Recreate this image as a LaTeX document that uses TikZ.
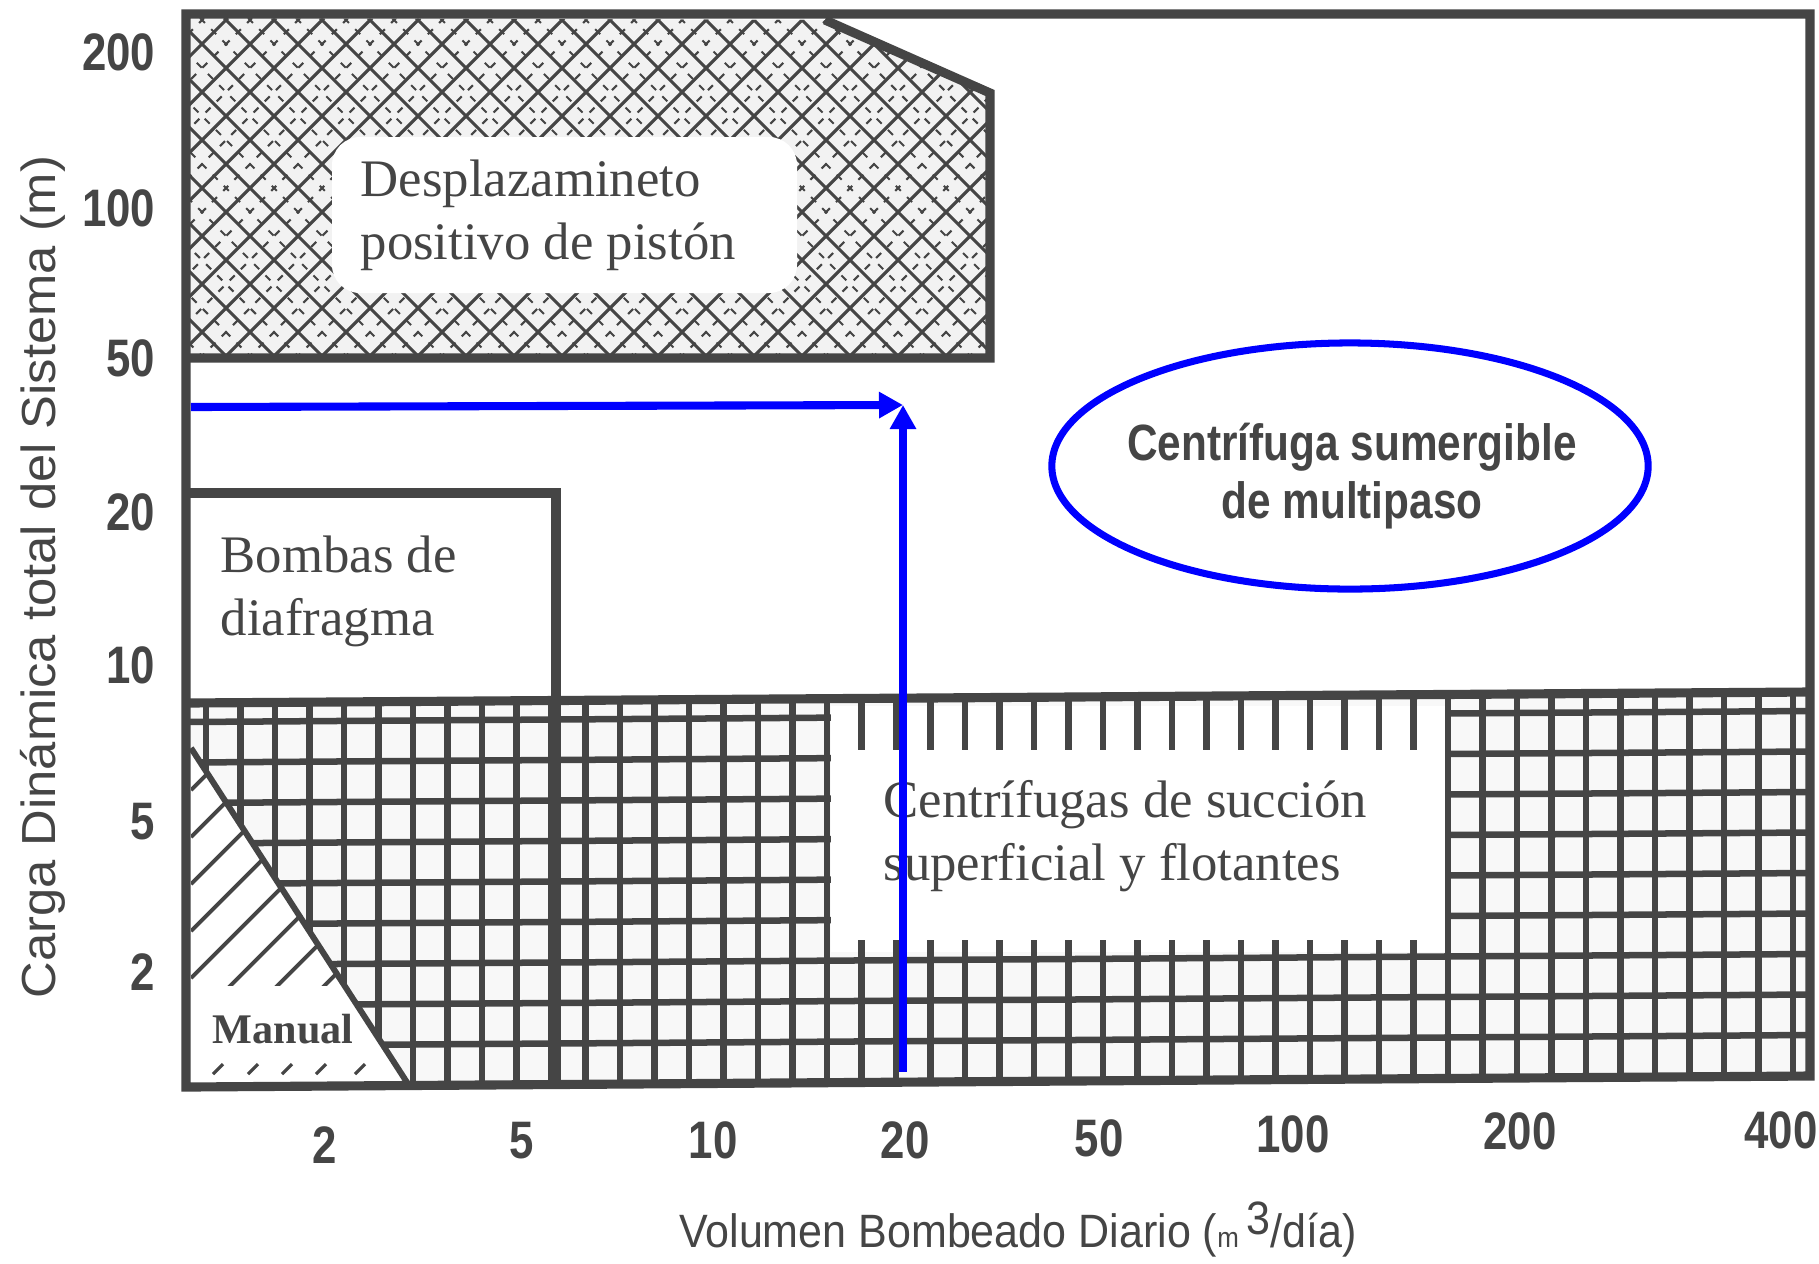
\documentclass[tikz,border=0pt]{standalone}
\usepackage{fontspec}
\usepackage{tikz}
\usetikzlibrary{arrows.meta, shapes.geometric}
\newfontfamily\serifbody{Liberation Serif}
\newfontfamily\ticksans[FakeStretch=0.83]{Liberation Sans}
\newfontfamily\axsans[FakeStretch=0.92]{Liberation Sans}
\newfontfamily\ylsans[FakeStretch=1.06]{Liberation Sans}
\definecolor{ink}{gray}{0.27}
\tikzset{
    frame/.style={draw=ink, line width=2.6pt},
    grid line/.style={draw=ink, line width=1.85pt},
    hatch/.style={draw=ink, line width=0.9pt},
    fine hatch/.style={draw=ink, line width=0.6pt, dash pattern=on 2pt off 2.5pt},
    tick lab/.style={text=ink, font=\ticksans\bfseries\fontsize{15}{15}\selectfont, inner sep=0pt},
    region lab/.style={text=ink, font=\serifbody\fontsize{15}{17.7}\selectfont, align=left, inner sep=0pt, anchor=base west},
    blue arrow/.style={draw=blue, line width=2.3pt, -{Triangle[length=0.24cm, width=0.25cm]}},
}

\begin{document}
\begin{tikzpicture}[x=0.01cm, y=-0.01cm]
    \useasboundingbox (0,0) rectangle (1819,1263);
    \fill[white] (0,0) rectangle (1819,1263);

    \begin{scope}
        \clip (186,18) -- (825,20) -- (990,93) -- (990,358) -- (186,358) -- cycle;
        \fill[ink!7] (186,18) rectangle (990,358);
        \foreach \x in {-400,-352,...,1000}{
            \draw[hatch] (\x,18) -- (\x+340,358);
            \draw[hatch] (\x+340,18) -- (\x,358);
            \draw[fine hatch] (\x+24,18) -- (\x+364,358);
            \draw[fine hatch] (\x+364,18) -- (\x+24,358);
            };
        \fill[white, rounded corners=8pt] (332,137) rectangle (797,293);
    \end{scope}
    \draw[frame] (186,358) -- (990,358) -- (990,93) -- (825,20);

    \begin{scope}
        \clip (186,703) -- (1810,692) -- (1810,1076) -- (410,1087) -- (191,748) -- (186,748) -- cycle;
        \fill[ink!4] (186,690) rectangle (1810,1090);
        \foreach \k in {0,...,46}{
            \draw[grid line] ({206+34.5*\k},680) -- ({206+34.5*\k},1100);
            };
        \foreach \k in {0,...,8}{
            \draw[grid line] (186,{722+40.5*\k}) -- (1810,{711+40.5*\k});
            };
        \fill[white] (831,706) rectangle (1445,952);
        \foreach \k in {19,...,35}{
            \draw[grid line] ({206+34.5*\k},700) -- ({206+34.5*\k},750);
            \draw[grid line] ({206+34.5*\k},940) -- ({206+34.5*\k},955);
            };
    \end{scope}

    \begin{scope}
        \clip (191,748) -- (410,1087) -- (191,1087) -- cycle;
        \clip (180,700) rectangle (420,985);
        \foreach \y in {790,837,...,1260}{
            \draw[hatch, line width=1.1pt] (191,\y) -- ++(300,-300);
            };
    \end{scope}
    \foreach \x in {218,253,287,321,360}{
        \draw[hatch] (\x-5,1074) -- (\x+5,1064);
        };
    \draw[draw=ink, line width=1.7pt] (191,748) -- (410,1087);

    \draw[frame] (186,703) -- (1810,692);
    \draw[frame] (186,493) -- (556,493) -- (556,1086);
    \draw[frame] (186,14) -- (1810,14) -- (1810,1076) -- (186,1087) -- cycle;

    \node[region lab] (pist-txt) at (360,259) {Desplazamineto\\positivo de pistón};
    \node[region lab] (diaf-txt) at (220,635) {Bombas de\\diafragma};
    \node[region lab] (suc-txt)  at (883,880) {Centrífugas de succión\\superficial y flotantes};
    \node[text=ink, font=\serifbody\bfseries\fontsize{12}{14}\selectfont, anchor=base west, inner sep=0pt] (man-txt) at (212,1043) {Manual};

    \node[draw=blue, line width=2pt, ellipse, minimum width=5.96cm, minimum height=2.46cm] (multi) at (1350,466) {};
    \node[text=ink, font=\ticksans\bfseries\fontsize{14.5}{16.5}\selectfont, align=center, inner sep=0pt] (multi-txt) at (1352,476) {Centrífuga sumergible\\de multipaso};

    \coordinate (h-start) at (191,407);
    \coordinate (v-start) at (903,1072);
    \coordinate (meet)    at (903,405);
    \draw[blue arrow] (h-start) -- (meet);
    \draw[blue arrow] (v-start) -- (meet);

    \foreach \v/\y in {200/52, 100/208, 50/358, 20/512, 10/665, 5/822, 2/972}{
        \node[tick lab, anchor=east] (y-\v) at (156,\y) {\v};
        };
    \foreach \v/\x/\y in {2/325/1145, 5/522/1141, 10/713/1140, 20/905/1140, 50/1099/1138, 100/1293/1134, 200/1520/1131, 400/1781/1130}{
        \node[tick lab] (x-\v) at (\x,\y) {\v};
        };

    \node[text=ink, font=\axsans\fontsize{13.3}{13.3}\selectfont, anchor=base, inner sep=0pt] (x-title) at (1018,1247) {Volumen Bombeado Diario ({\fontsize{8}{8}\selectfont m}\,\raisebox{0.5ex}{3}/día)};
    \node[text=ink, font=\ylsans\fontsize{13.6}{13.6}\selectfont, rotate=90, anchor=base, inner sep=0pt] (y-title) at (55,577) {Carga Dinámica total del Sistema (m)};
\end{tikzpicture}
\end{document}
